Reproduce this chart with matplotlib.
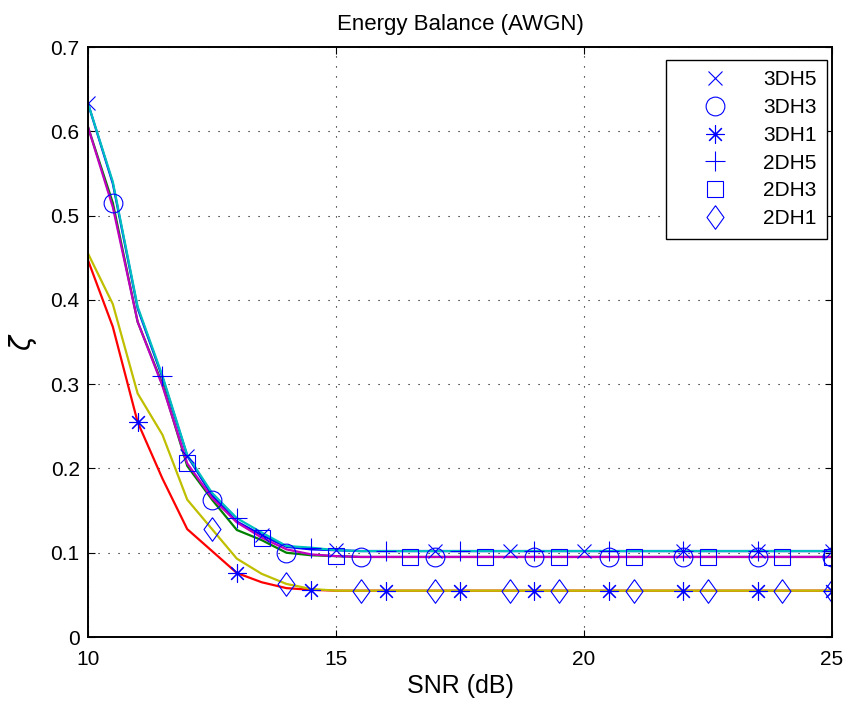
import numpy as np
import matplotlib
matplotlib.use("Agg")
import matplotlib.pyplot as plt

plt.rcParams['font.family'] = ['Liberation Sans', 'DejaVu Sans']

# SNR grid, 0.5 dB steps
snr = np.arange(10, 25.01, 0.5)

tail_5 = [0.102] * 20
tail_3 = [0.095] * 20
tail_1 = [0.055] * 20

# (10 .. 15 dB), flat afterwards
z_3dh5 = [0.633, 0.538, 0.390, 0.308, 0.215, 0.168, 0.137, 0.121, 0.107, 0.104, 0.103] + tail_5
z_3dh3 = [0.605, 0.515, 0.374, 0.300, 0.203, 0.163, 0.127, 0.115, 0.100, 0.097, 0.096] + tail_3
z_3dh1 = [0.447, 0.368, 0.255, 0.188, 0.128, 0.102, 0.076, 0.065, 0.058, 0.056, 0.055] + tail_1
z_2dh5 = [0.633, 0.540, 0.392, 0.310, 0.216, 0.171, 0.141, 0.124, 0.108, 0.106, 0.103] + tail_5
z_2dh3 = [0.605, 0.510, 0.374, 0.298, 0.206, 0.165, 0.136, 0.118, 0.104, 0.098, 0.096] + tail_3
z_2dh1 = [0.455, 0.395, 0.289, 0.240, 0.163, 0.128, 0.093, 0.075, 0.063, 0.057, 0.055] + tail_1

# marker positions (indices into snr)
idx_3dh5 = [0, 4, 7, 10, 14, 17, 20, 24, 27, 30]
idx_3dh3 = [1, 5, 8, 11, 14, 18, 21, 24, 27, 30]
idx_3dh1 = [2, 6, 9, 12, 15, 18, 21, 24, 27, 30]
idx_2dh5 = [3, 6, 9, 12, 15, 18, 21, 24, 27, 30]
idx_2dh3 = [4, 7, 10, 13, 16, 19, 22, 25, 28, 30]
idx_2dh1 = [5, 8, 11, 14, 17, 19, 22, 25, 28, 30]

names = ['3DH5', '3DH3', '3DH1', '2DH5', '2DH3', '2DH1']
series = [z_3dh5, z_3dh3, z_3dh1, z_2dh5, z_2dh3, z_2dh1]
marks = [idx_3dh5, idx_3dh3, idx_3dh1, idx_2dh5, idx_2dh3, idx_2dh1]
line_colors = ['#0000ff', '#008000', '#ff0000', '#00bfbf', '#bf00bf', '#bfbf00']

# matlab-ish asterisk and tall diamond
diamond = [(0, 1), (0.72, 0), (0, -1), (-0.72, 0), (0, 1)]
symbols = ['x', 'o', (8, 2, 0), '+', 's', diamond]
msizes = [10, 13.5, 13, 15, 11, 17]

fig = plt.figure(figsize=(8.48, 7.06), dpi=100)
ax = fig.add_axes([0.1038, 0.0977, 0.8774, 0.8357])

for y, c in zip(series, line_colors):
    ax.plot(snr, y, color=c, lw=1.6)

for name, y, idx, m, ms in zip(names, series, marks, symbols, msizes):
    y = np.array(y)
    ax.plot(snr[idx], y[idx], linestyle='none', marker=m, ms=ms,
            mfc='none', mec='#0000ff', mew=0.8, label=name)

ax.set_xlim(10, 25)
ax.set_ylim(0, 0.7)
ax.set_xticks([10, 15, 20, 25])
ax.set_yticks(np.arange(0, 0.71, 0.1))
ax.set_yticklabels(['0', '0.1', '0.2', '0.3', '0.4', '0.5', '0.6', '0.7'])
ax.grid(True, color='black', linestyle=(0, (1, 8)), lw=0.8)
ax.tick_params(direction='in', top=True, right=True, labelsize=15, length=5, width=0.8)
ax.tick_params(axis='x', pad=9)
ax.tick_params(axis='y', pad=6)
for s in ax.spines.values():
    s.set_linewidth(1.4)

ax.set_xlabel('SNR (dB)', fontsize=18, labelpad=4)
ax.set_ylabel(r'$\zeta$', fontsize=20, labelpad=8)
ax.set_title('Energy Balance (AWGN)', fontsize=16, pad=12)

leg = ax.legend(loc='upper right', bbox_to_anchor=(0.993, 0.978),
                fontsize=15, fancybox=False, framealpha=1,
                edgecolor='black', handletextpad=0.45, labelspacing=0.42,
                borderaxespad=0, borderpad=0.5, handlelength=3.7)
leg.get_frame().set_linewidth(1.0)

fig.savefig('out.png', dpi=100, facecolor='white')
